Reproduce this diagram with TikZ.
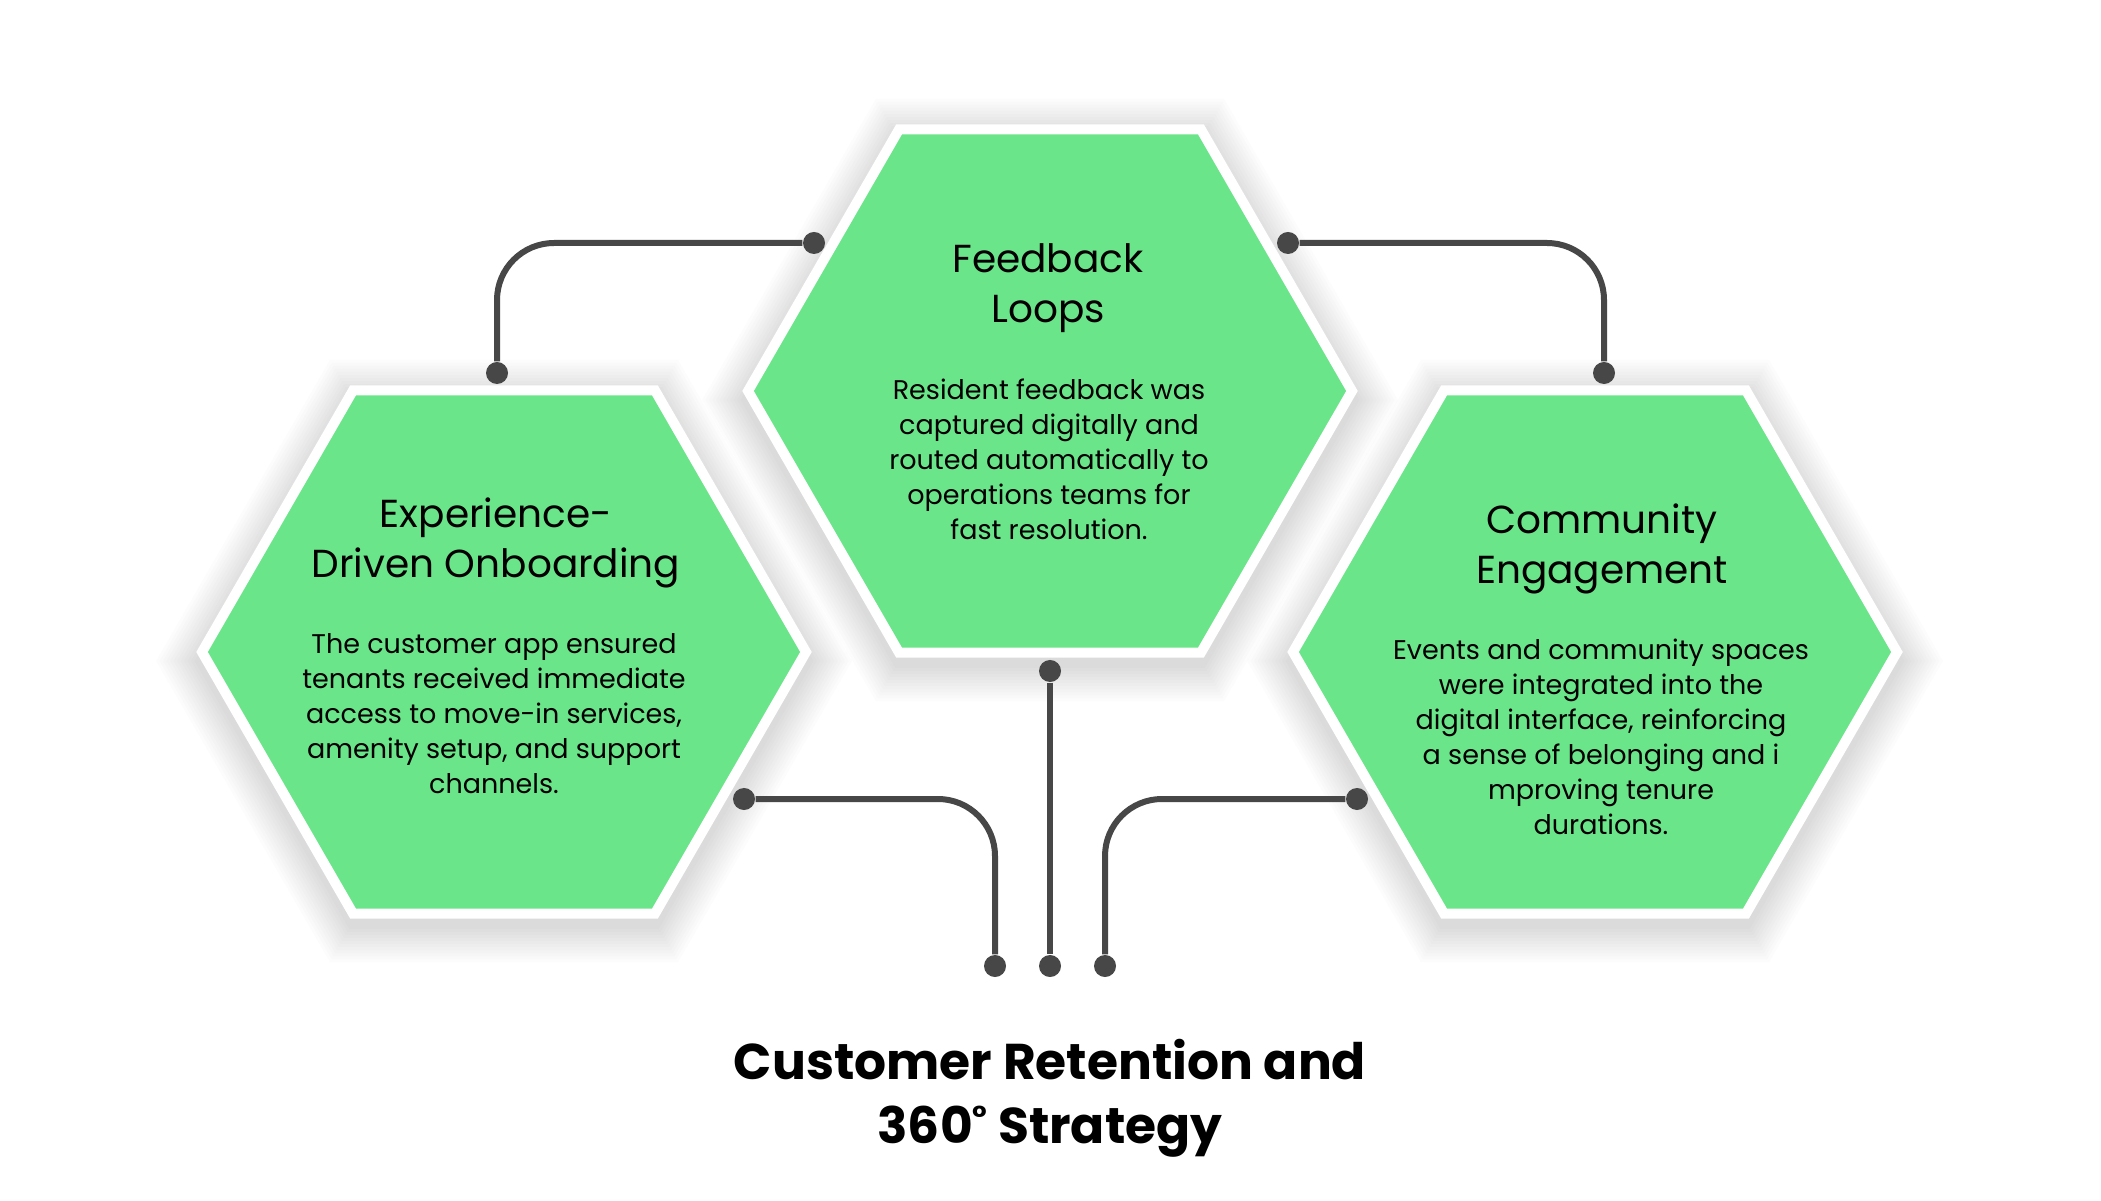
\documentclass[tikz,border=0pt]{standalone}
\usepackage{fontspec}
\setmainfont{Poppins}
\usepackage{xcolor}
\usetikzlibrary{shapes.geometric,positioning,calc}
\definecolor{cellgreen}{HTML}{6AE589}
\definecolor{wiregray}{HTML}{474747}

\begin{document}
\begin{tikzpicture}[x=0.01cm, y=-0.01cm,
    hexcell/.style={regular polygon, regular polygon sides=6, minimum size=6.036cm, inner sep=0pt,
        fill=cellgreen, draw=white, line width=0.1cm},
    wire/.style={draw=wiregray, line width=0.06cm, rounded corners=0.57cm},
    dot/.style={circle, fill=wiregray, minimum size=0.22cm, inner sep=0pt},
    celltitle/.style={align=center, font=\fontsize{11.1pt}{14.4pt}\selectfont},
    celltext/.style={align=center, font=\fontsize{7.68pt}{9.96pt}\selectfont},
    maintitle/.style={align=center, font=\fontsize{14.3pt}{18.2pt}\selectfont\bfseries}]
    % Page
    \fill [white] (0,0) rectangle (2101,1201);
    \useasboundingbox (0,0) rectangle (2101,1201);

    % Soft shadows
    \foreach \cx/\cy in {504/652, 1050/391, 1595/652} {
        \foreach \k in {1,...,12} {
            \pgfmathsetmacro\r{306+3.5*\k}
            \fill [black, opacity=0.011] (\cx+\r,\cy+9) -- ++(120:\r) -- ++(180:\r) -- ++(240:\r) -- ++(300:\r) -- ++(0:\r) -- cycle;
        }
    }

    % Hexagons
    \node [hexcell] (onboard) at (504,652) {};
    \node [hexcell] (feedback) at (1050,391) {};
    \node [hexcell] (community) at (1595,652) {};

    % Texts
    \node [celltitle] (feedbackTitle) at (1048,288) {Feedback\\Loops};
    \node [celltext] (feedbackText) at (1049,459) {Resident feedback was\\captured digitally and\\routed automatically to\\operations teams for\\fast resolution.};
    \node [celltitle] (onboardTitle) at (496,543) {Experience-\\Driven Onboarding};
    \node [celltext] (onboardText) at (494,714) {The customer app ensured\\tenants received immediate\\access to move-in services,\\amenity setup, and support\\channels.};
    \node [celltitle] (communityTitle) at (1602,549) {Community\\Engagement};
    \node [celltext] (communityText) at (1601,737) {Events and community spaces\\were integrated into the\\digital interface, reinforcing\\a sense of belonging and i\\mproving tenure\\durations.};
    \node [maintitle] (strategy) at (1050,1098) {Customer Retention and\\360\raisebox{0.3em}{\fontsize{9pt}{9pt}\selectfont°} Strategy};

    % Connector dots
    \node [dot] (feedbackL) at (814,243) {};
    \node [dot] (feedbackR) at (1288,243) {};
    \node [dot] (feedbackB) at (1050,671) {};
    \node [dot] (onboardT) at (497,373) {};
    \node [dot] (onboardR) at (744,799) {};
    \node [dot] (communityT) at (1604,373) {};
    \node [dot] (communityL) at (1357,799) {};
    \node [dot] (hubL) at (995,966) {};
    \node [dot] (hubC) at (1050,966) {};
    \node [dot] (hubR) at (1105,966) {};

    % Connectors
    \draw [wire] (feedbackL) -| (onboardT);
    \draw [wire] (feedbackR) -| (communityT);
    \draw [wire] (feedbackB) -- (hubC);
    \draw [wire] (onboardR) -| (hubL);
    \draw [wire] (communityL) -| (hubR);
\end{tikzpicture}
\end{document}
